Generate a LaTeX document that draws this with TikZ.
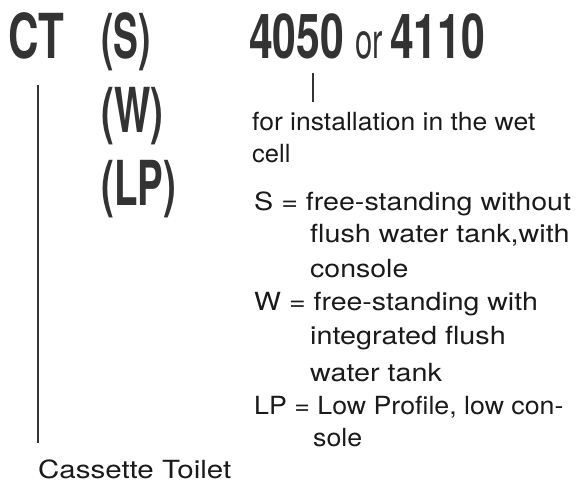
\documentclass[tikz,border=0pt]{standalone}
\usepackage{fontspec}
\setmainfont{TeX Gyre Heros}
\usepackage{graphicx}
\definecolor{inkbold}{HTML}{333333}
\definecolor{inktext}{HTML}{1A1A1A}
\newcommand{\sx}[2]{\scalebox{#1}[1]{#2}}
\begin{document}
\begin{tikzpicture}[x=1pt,y=-1pt,
  big/.style={anchor=base west,inner sep=0pt,text=inkbold,font=\fontsize{62}{62}\selectfont\bfseries},
  txt/.style={anchor=base west,inner sep=0pt,text=inktext,font=\fontsize{25}{25}\selectfont},
  rule/.style={draw=inkbold,line width=2.2pt}]
\useasboundingbox[fill=white] (0,0) rectangle (578,482);
% bold code parts
\node[big] (ct) at (8,58) {\sx{0.68}{CT}};
\node[big] (s) at (101,58) {\sx{0.6}{(S)}};
\node[big] (w) at (101,132) {\sx{0.62}{(W)}};
\node[big] (lp) at (101,205) {\sx{0.62}{(LP)}};
\node[big] (n1) at (249,58) {\sx{0.69}{4050}};
\node[anchor=base west,inner sep=0pt,text=inkbold,font=\fontsize{50}{50}\selectfont] (or) at (355,58) {\sx{0.62}{or}};
\node[big] (n2) at (390,58) {\sx{0.69}{4110}};
% explanations
\node[txt] (wet1) at (252,130) {\sx{1.06}{for installation in the wet}};
\node[txt] (wet2) at (252,162) {\sx{1.02}{cell}};
\node[txt] (sdef1) at (254,210) {\sx{1.145}{S = free-standing without}};
\node[txt] (sdef2) at (310,242) {\sx{1.15}{flush water tank,with}};
\node[txt] (sdef3) at (310,277) {\sx{1.14}{console}};
\node[txt] (wdef1) at (254,310) {\sx{1.14}{W = free-standing with}};
\node[txt] (wdef2) at (310,344) {\sx{1.15}{integrated flush}};
\node[txt] (wdef3) at (310,381) {\sx{1.15}{water tank}};
\node[txt] (lpdef1) at (254,414) {\sx{1.07}{LP = Low Profile, low con-}};
\node[txt] (lpdef2) at (313,446) {\sx{1.07}{sole}};
\node[txt] (cass) at (38,478) {\sx{1.18}{Cassette Toilet}};
% connectors
\coordinate (ctl1) at (38,85);
\coordinate (ctl2) at (38,443);
\coordinate (tk1) at (313,73);
\coordinate (tk2) at (313,102);
\draw[rule] (ctl1) -- (ctl2);
\draw[rule,line width=2pt] (tk1) -- (tk2);
\end{tikzpicture}
\end{document}
